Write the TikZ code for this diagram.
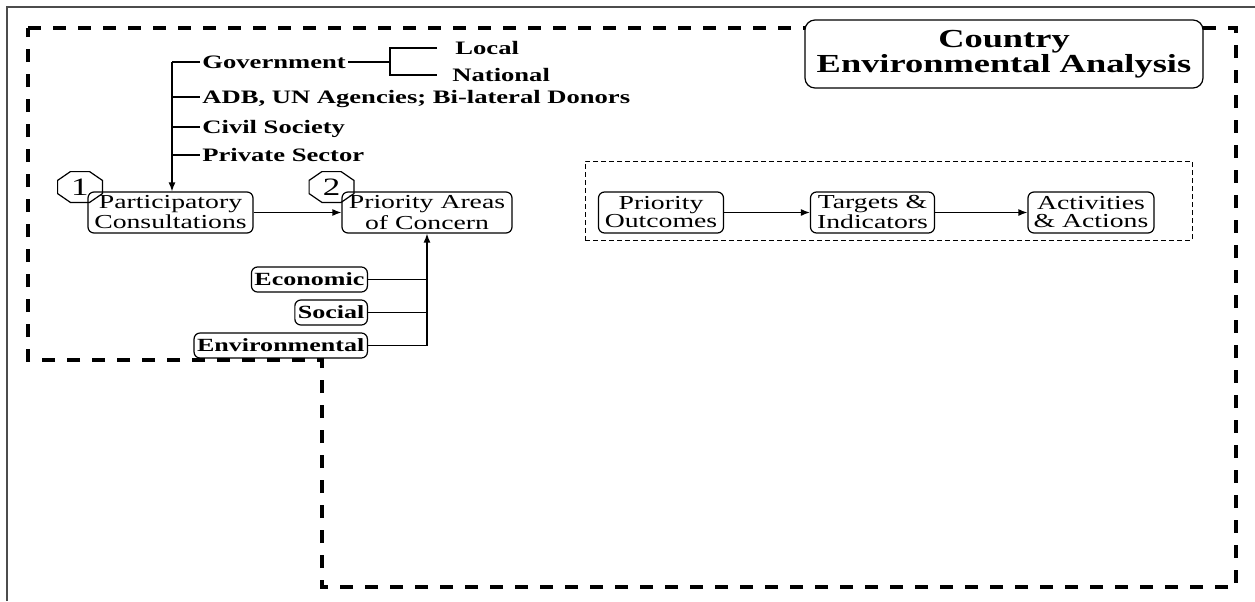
\documentclass[tikz,border=0pt]{standalone}
\usepackage{fontspec}
\setmainfont{Liberation Serif}[FakeStretch=1.4]
\usetikzlibrary{arrows.meta, positioning}

\begin{document}
\begin{tikzpicture}[x=0.5pt, y=-0.5pt,
  lbl/.style={inner sep=1pt, anchor=west, text height=8.2pt, text depth=2pt,
              font=\bfseries\fontsize{9.5}{11}\selectfont},
  stp/.style={draw, rounded corners=3pt, line width=0.6pt, inner sep=1pt,
              minimum height=20.5pt, align=center, font=\fontsize{9.9}{9}\selectfont},
  dim/.style={draw, rounded corners=3pt, line width=0.6pt, inner sep=1.5pt, anchor=east,
              minimum height=12.5pt, font=\bfseries\fontsize{9.3}{11}\selectfont},
  oct/.style={minimum width=22pt, minimum height=15pt, inner sep=0pt,
              font=\fontsize{12.5}{12.5}\selectfont},
  arr/.style={-{Latex[length=4.5pt,width=3.5pt]}, line width=0.65pt},
  ln/.style={line width=0.65pt},
]
\useasboundingbox (0,0) rectangle (1255,601);

% Frame and dashed region
\draw[gray!60!black, line width=0.7pt] (7,601) -- (7,7) -- (1255,7);
\draw[line width=2.2pt, dash pattern=on 6.5pt off 6pt]
  (28,28) -- (1236,28) -- (1236,587) -- (322,587) -- (322,360) -- (28,360) -- cycle;

% Title
\node[stp, fill=white, rounded corners=5pt, minimum width=199pt, minimum height=34pt,
      font=\bfseries\fontsize{13}{12.5}\selectfont] (cea) at (1004,54)
  {Country\\Environmental Analysis};

% Stakeholders
\coordinate (trunk) at (172,62);
\node[lbl] (gov) at (200,62) {Government};
\node[lbl] (adb) at (200,97) {ADB, UN Agencies; Bi-lateral Donors};
\node[lbl] (civ) at (200,127) {Civil Society};
\node[lbl] (pvt) at (200,155) {Private Sector};
\node[lbl] (loc) at (453,48) {Local};
\node[lbl] (nat) at (450,75) {National};
\coordinate (brk) at (390,62);

\draw[ln] (trunk) -- (gov.west);
\foreach \s in {adb, civ, pvt}
  \draw[ln] (trunk |- \s.west) -- (\s.west);
\draw[ln] (gov.east) -- (brk);
\draw[ln] ([xshift=-8pt]loc.west) -| (brk) |- ([xshift=-6.5pt]nat.west);

% Main flow
\node[stp, minimum width=82.5pt] (part) at (170.5,212.5) {Participatory\\Consultations};
\node[stp, minimum width=85pt] (pri) at (427,212.5) {Priority Areas\\of Concern};
\node[oct] (n1) at (80,187) {1};
\node[oct] (n2) at (331.5,187) {2};
\foreach \o in {n1, n2}
  \draw[line width=0.6pt]
    ([xshift=6.4pt]\o.north west) -- ([xshift=-6.4pt]\o.north east)
    -- ([yshift=-4.4pt]\o.north east) -- ([yshift=4.4pt]\o.south east)
    -- ([xshift=-6.4pt]\o.south east) -- ([xshift=6.4pt]\o.south west)
    -- ([yshift=4.4pt]\o.south west) -- ([yshift=-4.4pt]\o.north west) -- cycle;

\draw[arr] (trunk) -- (trunk |- part.north);
\draw[arr] (part) -- (pri);

% Dimensions
\node[dim] (eco) at (368,279.5) {Economic};
\node[dim] (soc) at (368,312.5) {Social};
\node[dim] (env) at (368,345.5) {Environmental};

\draw[ln] (eco.east) -- (eco.east -| pri.south);
\draw[ln] (soc.east) -- (soc.east -| pri.south);
\draw[arr] (env.east) -| (pri.south);

% Results chain
\node[draw, line width=0.5pt, dash pattern=on 2.5pt off 1.5pt, minimum width=303.5pt,
      minimum height=39.5pt, inner sep=0pt] (grp) at (888.5,200.5) {};
\node[stp, minimum width=62.5pt] (po) at (661,212.5) {Priority\\Outcomes};
\node[stp, minimum width=62pt] (ti) at (872.5,212.5) {Targets \&\\Indicators};
\node[stp, minimum width=63pt] (aa) at (1091,212.5) {Activities\\\& Actions};

\draw[arr] (po) -- (ti);
\draw[arr] (ti) -- (aa);
\end{tikzpicture}
\end{document}
